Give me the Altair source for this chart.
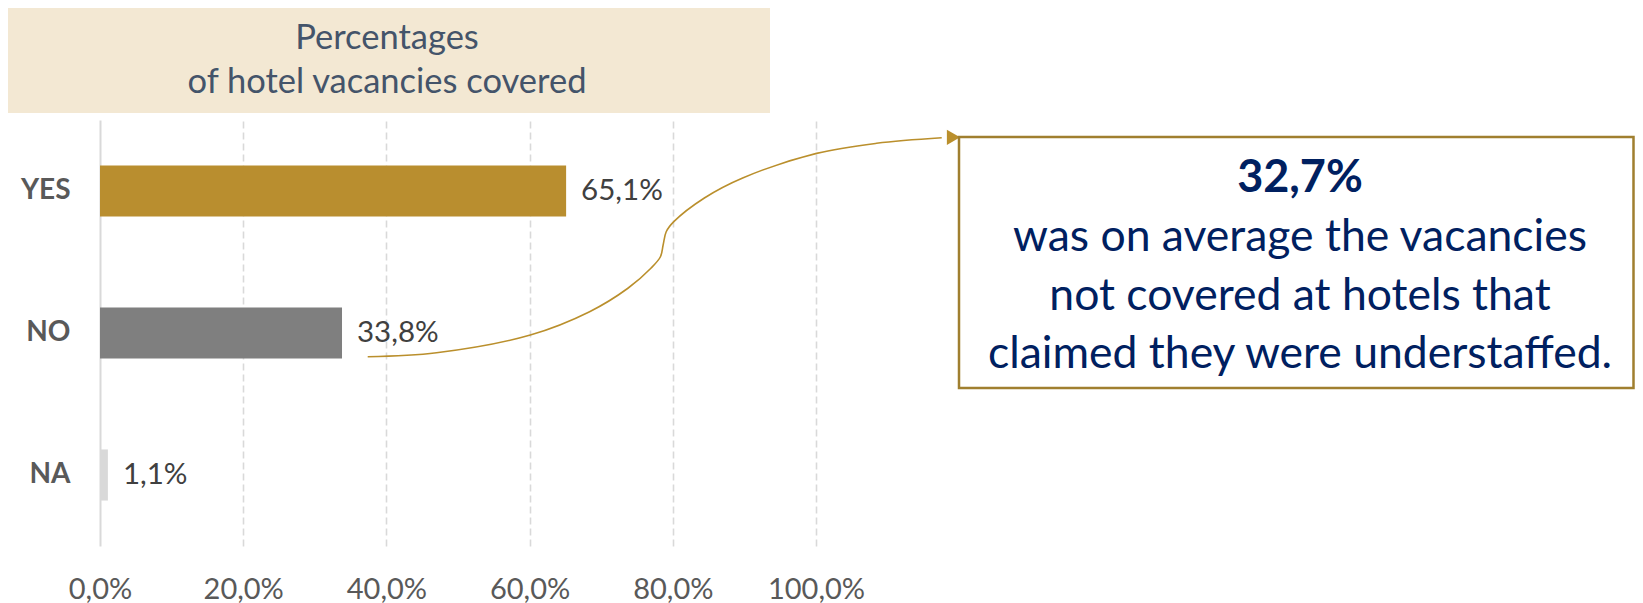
import altair as alt
import pandas as pd

# ---- data ----
categories = ["YES", "NO", "NA"]
values = [65.1, 33.8, 1.1]
value_labels = ["65,1%", "33,8%", "1,1%"]
bar_colors = ["#B98E2F", "#7F7F7F", "#D9D9D9"]
x_ticks = [0, 20, 40, 60, 80, 100]

title_lines = ["Percentages", "of hotel vacancies covered"]
callout_head = "32,7%"
callout_lines = ["was on average the vacancies", "not covered at hotels that",
                 "claimed they were understaffed."]

# connector curve (x in %, y in row units: 0 = top, 3 = bottom)
curve_x = [37.39, 47.00, 60.10, 68.38, 73.73, 76.94, 78.27, 78.65, 79.08, 80.14,
           84.41, 89.76, 100.08, 108.46, 117.56]
curve_y = [1.667, 1.639, 1.514, 1.350, 1.185, 1.044, 0.963, 0.880, 0.787, 0.716,
           0.549, 0.408, 0.235, 0.164, 0.125]
arrow_x = [119.2]
arrow_y = [0.122]

FONT = "Lato"
GOLD = "#BA8F2C"

bars_df = pd.DataFrame({"cat": categories, "value": values, "label": value_labels})
curve_df = pd.DataFrame({"x": curve_x, "y": curve_y, "i": list(range(len(curve_x)))})
arrow_df = pd.DataFrame({"x": arrow_x, "y": arrow_y})
one = pd.DataFrame({"k": [0]})

x_scale = alt.Scale(domain=[0, 100], nice=False, zero=True)
x_axis = alt.Axis(
    values=x_ticks,
    labelExpr="replace(format(datum.value, '.1f'), '.', ',') + '%'",
    title=None, domain=False, ticks=False, labelFlush=False,
    grid=True, gridColor="#D9D9D9",
    gridDash={"condition": {"test": "datum.value === 0", "value": []}, "value": [7, 4]},
    gridWidth={"condition": {"test": "datum.value === 0", "value": 2}, "value": 1.6},
    labelFont=FONT, labelFontSize=29, labelColor="#595959", labelPadding=29,
)
y_scale = alt.Scale(domain=categories, paddingInner=0.64, paddingOuter=0.32)
y_axis = alt.Axis(title=None, domain=False, ticks=False, labelFont=FONT,
                  labelFontSize=28, labelFontWeight="bold", labelColor="#595959",
                  labelPadding=30)

bars = alt.Chart(bars_df).mark_bar().encode(
    x=alt.X("value:Q", scale=x_scale, axis=x_axis),
    y=alt.Y("cat:N", sort=categories, scale=y_scale, axis=y_axis),
    color=alt.Color("cat:N", scale=alt.Scale(domain=categories, range=bar_colors), legend=None),
)
bar_text = alt.Chart(bars_df).mark_text(
    align="left", baseline="middle", dx=15, font=FONT, fontSize=29.5, color="#404040"
).encode(
    x=alt.X("value:Q", scale=x_scale, axis=x_axis),
    y=alt.Y("cat:N", sort=categories, scale=y_scale, axis=y_axis),
    text="label:N",
)
bar_layer = alt.layer(bars, bar_text)

curve_y_scale = alt.Scale(domain=[0, 3], reverse=True, nice=False, zero=False)
curve = alt.Chart(curve_df).mark_line(
    interpolate="catmull-rom", color=GOLD, strokeWidth=1.6
).encode(
    x=alt.X("x:Q", scale=x_scale, axis=x_axis),
    y=alt.Y("y:Q", scale=curve_y_scale, axis=None),
    order="i:O",
)
arrow = alt.Chart(arrow_df).mark_point(
    shape="triangle-right", filled=True, size=230, color=GOLD, opacity=1
).encode(
    x=alt.X("x:Q", scale=x_scale, axis=x_axis),
    y=alt.Y("y:Q", scale=curve_y_scale, axis=None),
)
curve_layer = alt.layer(curve, arrow)

title_box = alt.Chart(one).mark_rect(color="#F3E8D3").encode(
    x=alt.value(-95), x2=alt.value(670), y=alt.value(-116), y2=alt.value(-7)
)
title_text = alt.Chart(one).mark_text(
    text="\n".join(title_lines), lineBreak="\n", lineHeight=44, font=FONT,
    fontSize=34.5, color="#44546A", align="center", baseline="alphabetic"
).encode(x=alt.value(287), y=alt.value(-71))

callout_box = alt.Chart(one).mark_rect(fill="white", stroke="#A07F2F", strokeWidth=2.5).encode(
    x=alt.value(859), x2=alt.value(1533.5), y=alt.value(17), y2=alt.value(268)
)
callout_bold = alt.Chart(one).mark_text(
    text=callout_head, font=FONT, fontSize=45, fontWeight="bold", color="#002060",
    align="center", baseline="alphabetic"
).encode(x=alt.value(1200), y=alt.value(72))
callout_text = alt.Chart(one).mark_text(
    text="\n".join(callout_lines), lineBreak="\n", lineHeight=58.5, font=FONT,
    fontSize=44.5, color="#002060", align="center", baseline="alphabetic"
).encode(x=alt.value(1200), y=alt.value(131))

chart = alt.layer(
    title_box, title_text, bar_layer, curve_layer, callout_box, callout_bold, callout_text
).resolve_scale(y="independent").properties(
    width=716, height=426,
    padding={"left": 92, "top": 112, "right": 819, "bottom": 60},
    autosize=alt.AutoSizeParams(type="none"),
    background="white",
).configure_view(stroke=None)

chart.save("out.html", embed_options={"renderer": "svg", "actions": False})
